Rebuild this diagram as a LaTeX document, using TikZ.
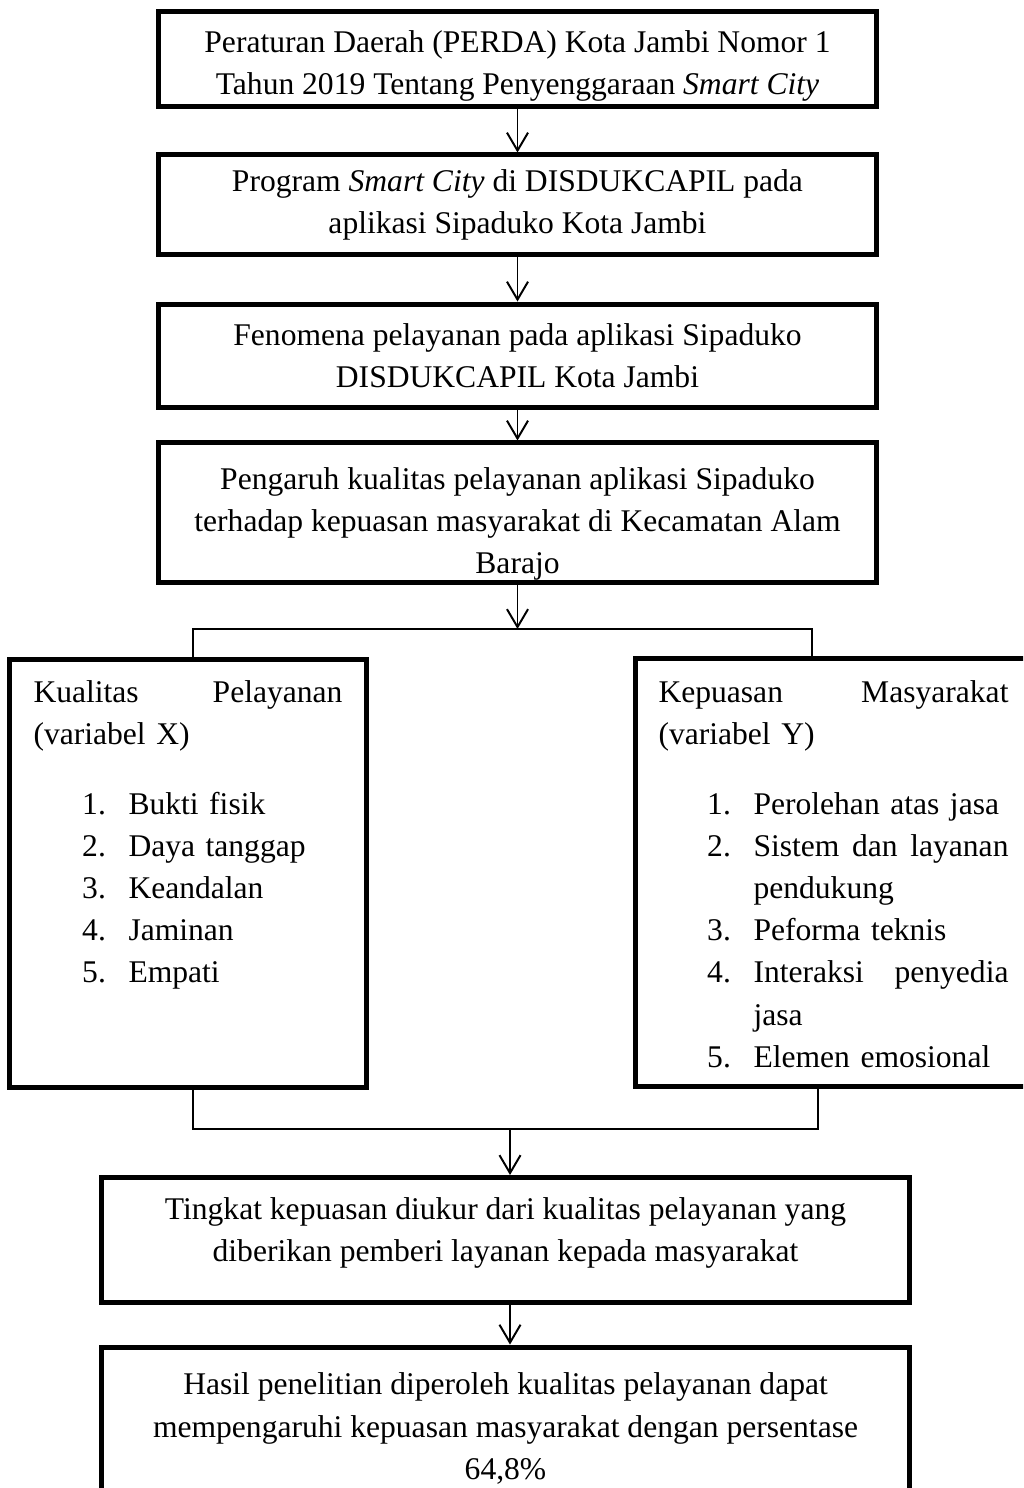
\documentclass[tikz,border=0pt]{standalone}
\usepackage{fontspec}
\setmainfont{Liberation Serif}
\usetikzlibrary{arrows.meta,positioning}
% item daftar bernomor
\newcommand{\butir}[2]{\hspace*{18.5pt}\makebox[17.6pt][l]{#1}#2}
\newcommand{\lanjut}[1]{\hspace*{36.1pt}#1}
% penyangga tak terlihat untuk menggeser teks di dalam kotak
\newcommand{\atas}[1]{\rule{0pt}{#1}}
\newcommand{\bawah}[1]{\rule[-#1]{0pt}{#1}}

\begin{document}
\begin{tikzpicture}[x=0.38pt, y=-0.38pt, font=\fontsize{12}{16}\selectfont,
  kotak/.style={draw, line width=1.9pt, align=center, inner sep=0pt},
  panah/.style={-{Straight Barb[length=6.8pt,width=8pt]}, line width=0.75pt},
  garis/.style={line width=0.75pt},
  isi/.style={anchor=north west, inner sep=0pt, align=left}]

\useasboundingbox (0,0) rectangle (1023,1488);
\clip (0,0) rectangle (1023,1488);

% Alur utama
\node[kotak, minimum width=273.2pt, minimum height=36.1pt] (perda) at (517.5,59.5)
  {\atas{13.5pt}Peraturan Daerah (PERDA) Kota Jambi Nomor 1\\Tahun 2019 Tentang Penyenggaraan \textit{Smart City}};
\node[kotak, minimum width=273.2pt, minimum height=38pt] (program) at (517.5,205)
  {Program \textit{Smart City} di DISDUKCAPIL pada\\aplikasi Sipaduko Kota Jambi};
\node[kotak, minimum width=273.2pt, minimum height=39.5pt] (fenomena) at (517.5,356)
  {Fenomena pelayanan pada aplikasi Sipaduko\\DISDUKCAPIL Kota Jambi};
\node[kotak, minimum width=273.2pt, minimum height=53.2pt] (pengaruh) at (517.5,513)
  {\atas{16.8pt}Pengaruh kualitas pelayanan aplikasi Sipaduko\\terhadap kepuasan masyarakat di Kecamatan Alam\\Barajo};

\draw[panah] (perda) -- (program);
\draw[panah] (program) -- (fenomena);
\draw[panah] (fenomena) -- (pengaruh);

% Variabel X dan Y
\node[kotak, minimum width=135.3pt, minimum height=162.3pt] (varx) at (188,873.5) {};
\node[kotak, minimum width=153.9pt, minimum height=163pt] (vary) at (837.5,872.5) {};

\node[isi, text width=117.4pt] (varxisi) at (33,680)
  {Kualitas\hfill Pelayanan\\(variabel X)\\[10.6pt]
   \butir{1.}{Bukti fisik}\\
   \butir{2.}{Daya tanggap}\\
   \butir{3.}{Keandalan}\\
   \butir{4.}{Jaminan}\\
   \butir{5.}{Empati}};
\node[isi, text width=133pt] (varyisi) at (658,680)
  {Kepuasan\hfill Masyarakat\\(variabel Y)\\[10.6pt]
   \butir{1.}{Perolehan atas jasa}\\
   \butir{2.}{Sistem\hfill dan\hfill layanan}\\
   \lanjut{pendukung}\\
   \butir{3.}{Peforma teknis}\\
   \butir{4.}{Interaksi\hfill penyedia}\\
   \lanjut{jasa}\\
   \butir{5.}{Elemen emosional}};

% Percabangan
\coordinate (cabang) at (pengaruh.south |- 0,629);
\coordinate (cabkiri) at (193,629);
\coordinate (cabkanan) at (812,629);
\draw[panah] (pengaruh) -- (cabang);
\draw[garis] (cabkiri |- varx.north) -- (cabkiri) -- (cabkanan) -- (cabkanan |- vary.north);

% Hasil
\node[kotak, minimum width=306.7pt, minimum height=47.5pt] (tingkat) at (505.5,1240)
  {Tingkat kepuasan diukur dari kualitas pelayanan yang\\diberikan pemberi layanan kepada masyarakat\bawah{7.9pt}};
\node[kotak, minimum width=306.7pt, minimum height=61.9pt] (hasil) at (505.5,1428.5)
  {Hasil penelitian diperoleh kualitas pelayanan dapat\\mempengaruhi kepuasan masyarakat dengan persentase\\64,8\%};

\coordinate (gabkiri) at (193,1129);
\coordinate (gabkanan) at (818,1129);
\coordinate (gabung) at (510,1129);
\draw[garis] (gabkiri |- varx.south) -- (gabkiri) -- (gabkanan) -- (gabkanan |- vary.south);
\draw[panah] (gabung) -- (gabung |- tingkat.north);
\draw[panah] (tingkat.south -| gabung) -- (hasil.north -| gabung);

\end{tikzpicture}
\end{document}
